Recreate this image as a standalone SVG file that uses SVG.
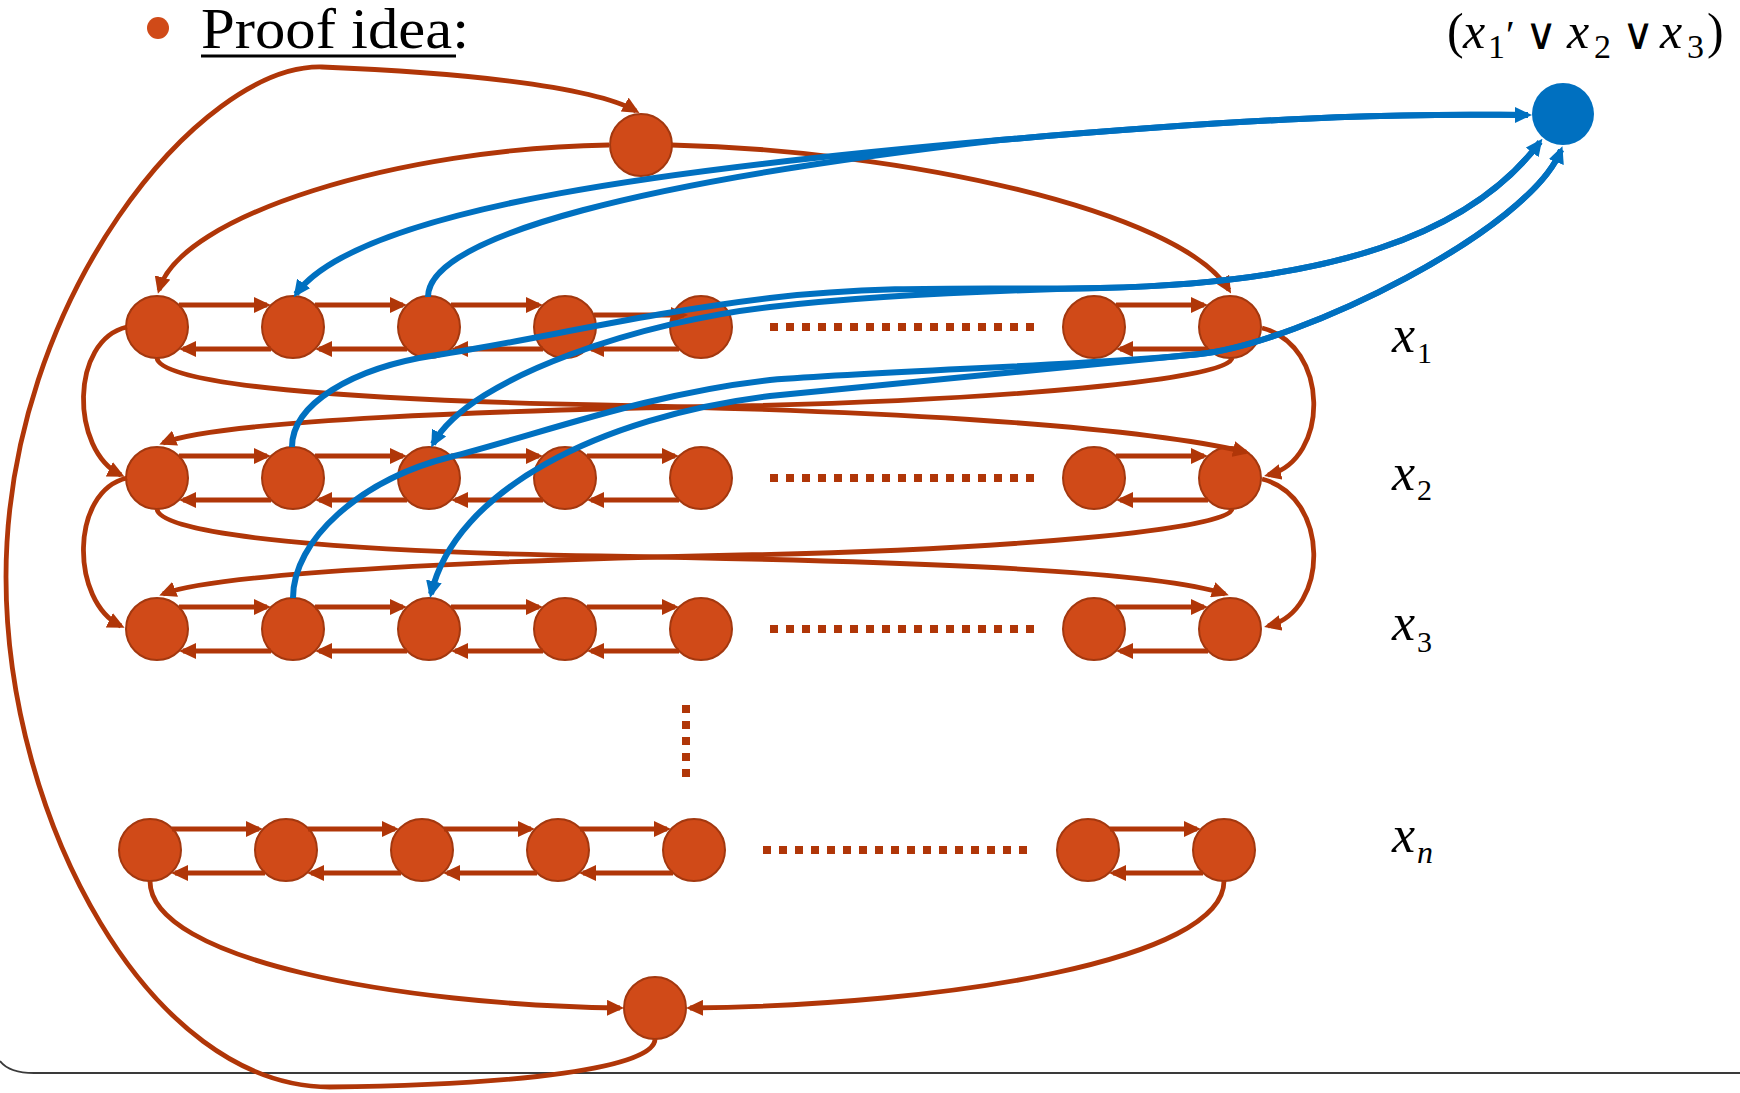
<svg xmlns="http://www.w3.org/2000/svg" width="1740" height="1093" viewBox="0 0 1740 1093">
<defs>
<style>
.node{fill:#D04A18;stroke:#A3380F;stroke-width:2}
.clause{fill:#0070C0}
.r{fill:none;stroke:#B03608;stroke-width:4.8;marker-end:url(#ar)}
.b{fill:none;stroke:#0070C0;stroke-width:6;marker-end:url(#ab)}
.dot{fill:none;stroke:#B03608;stroke-width:8;stroke-dasharray:8 8}
.lbl{font-family:"Liberation Serif","DejaVu Serif",serif;fill:#000}
.op{font-family:"DejaVu Sans","Liberation Sans",sans-serif;font-weight:200}
</style>
<marker id="ar" viewBox="0 0 17 16" refX="13" refY="8" markerWidth="17" markerHeight="16" markerUnits="userSpaceOnUse" orient="auto"><path d="M0,0 L17,8 L0,16 z" fill="#B03608"/></marker>
<marker id="ab" viewBox="0 0 17 16" refX="13" refY="8" markerWidth="17" markerHeight="16" markerUnits="userSpaceOnUse" orient="auto"><path d="M0,0 L17,8 L0,16 z" fill="#0070C0"/></marker>
</defs>
<rect width="1740" height="1093" fill="#fff"/>
<path d="M0,1061 C6,1069 16,1073 34,1073 H1740" fill="none" stroke="#3A3A3A" stroke-width="2"/>

<g id="title">
<circle cx="158" cy="28" r="11" fill="#D04A18"/>
<text class="lbl" x="201" y="48" font-size="57" textLength="268" lengthAdjust="spacingAndGlyphs">Proof idea:</text>
<rect x="201" y="54.5" width="255" height="3" fill="#000"/>
</g>

<g id="clause-label">
<text class="lbl" font-size="50">
<tspan x="1447" y="48">(</tspan><tspan x="1463" y="48" font-style="italic">x</tspan><tspan x="1488" y="58" font-size="34">1</tspan><tspan x="1506" y="48" font-size="40">′</tspan><tspan class="op" x="1525" y="49" font-size="44">∨</tspan><tspan x="1567" y="48" font-style="italic">x</tspan><tspan x="1594" y="58" font-size="34">2</tspan><tspan class="op" x="1622" y="49" font-size="44">∨</tspan><tspan x="1660" y="48" font-style="italic">x</tspan><tspan x="1687" y="58" font-size="34">3</tspan><tspan x="1707" y="48">)</tspan>
</text>
</g>

<g id="row-labels">
<text class="lbl" font-size="52"><tspan x="1392" y="352" font-style="italic">x</tspan><tspan x="1417" y="363" font-size="30">1</tspan></text>
<text class="lbl" font-size="52"><tspan x="1392" y="490" font-style="italic">x</tspan><tspan x="1417" y="500" font-size="30">2</tspan></text>
<text class="lbl" font-size="52"><tspan x="1392" y="640" font-style="italic">x</tspan><tspan x="1417" y="652" font-size="30">3</tspan></text>
<text class="lbl" font-size="52"><tspan x="1392" y="852" font-style="italic">x</tspan><tspan x="1417" y="863" font-size="32" font-style="italic">n</tspan></text>
</g>

<g id="dots">
<path class="dot" d="M770,327 H1034"/>
<path class="dot" d="M770,478 H1034"/>
<path class="dot" d="M770,629 H1034"/>
<path class="dot" d="M763,850 H1027"/>
<path class="dot" d="M686,705 V777"/>
</g>

<g id="nodes">
<circle id="n-top" class="node" cx="641" cy="145" r="31"/>
<circle id="n-bottom" class="node" cx="655" cy="1008" r="31"/>
<circle id="n-clause" class="clause" cx="1563" cy="114" r="31"/>
<g id="row-x1">
<circle id="n-1-1" class="node" cx="157" cy="327" r="31"/>
<circle id="n-1-2" class="node" cx="293" cy="327" r="31"/>
<circle id="n-1-3" class="node" cx="429" cy="327" r="31"/>
<circle id="n-1-4" class="node" cx="565" cy="327" r="31"/>
<circle id="n-1-5" class="node" cx="701" cy="327" r="31"/>
<circle id="n-1-6" class="node" cx="1094" cy="327" r="31"/>
<circle id="n-1-7" class="node" cx="1230" cy="327" r="31"/>
</g>
<g id="row-x2">
<circle id="n-2-1" class="node" cx="157" cy="478" r="31"/>
<circle id="n-2-2" class="node" cx="293" cy="478" r="31"/>
<circle id="n-2-3" class="node" cx="429" cy="478" r="31"/>
<circle id="n-2-4" class="node" cx="565" cy="478" r="31"/>
<circle id="n-2-5" class="node" cx="701" cy="478" r="31"/>
<circle id="n-2-6" class="node" cx="1094" cy="478" r="31"/>
<circle id="n-2-7" class="node" cx="1230" cy="478" r="31"/>
</g>
<g id="row-x3">
<circle id="n-3-1" class="node" cx="157" cy="629" r="31"/>
<circle id="n-3-2" class="node" cx="293" cy="629" r="31"/>
<circle id="n-3-3" class="node" cx="429" cy="629" r="31"/>
<circle id="n-3-4" class="node" cx="565" cy="629" r="31"/>
<circle id="n-3-5" class="node" cx="701" cy="629" r="31"/>
<circle id="n-3-6" class="node" cx="1094" cy="629" r="31"/>
<circle id="n-3-7" class="node" cx="1230" cy="629" r="31"/>
</g>
<g id="row-xn">
<circle id="n-n-1" class="node" cx="150" cy="850" r="31"/>
<circle id="n-n-2" class="node" cx="286" cy="850" r="31"/>
<circle id="n-n-3" class="node" cx="422" cy="850" r="31"/>
<circle id="n-n-4" class="node" cx="558" cy="850" r="31"/>
<circle id="n-n-5" class="node" cx="694" cy="850" r="31"/>
<circle id="n-n-6" class="node" cx="1088" cy="850" r="31"/>
<circle id="n-n-7" class="node" cx="1224" cy="850" r="31"/>
</g>
</g>

<g id="connectors">
<g id="red-connectors">
<path class="r" d="M179,305 H267"/><path class="r" d="M315,305 H403"/><path class="r" d="M451,305 H539"/><path class="r" d="M594,315 H684"/><path class="r" d="M1116,305 H1204"/>
<path class="r" d="M271,349 H183"/><path class="r" d="M407,349 H319"/><path class="r" d="M543,349 H455"/><path class="r" d="M679,349 H591"/><path class="r" d="M1208,349 H1120"/>
<path class="r" d="M179,456 H267"/><path class="r" d="M315,456 H403"/><path class="r" d="M451,456 H539"/><path class="r" d="M587,456 H675"/><path class="r" d="M1116,456 H1204"/>
<path class="r" d="M271,500 H183"/><path class="r" d="M407,500 H319"/><path class="r" d="M543,500 H455"/><path class="r" d="M679,500 H591"/><path class="r" d="M1208,500 H1120"/>
<path class="r" d="M179,607 H267"/><path class="r" d="M315,607 H403"/><path class="r" d="M451,607 H539"/><path class="r" d="M587,607 H675"/><path class="r" d="M1116,607 H1204"/>
<path class="r" d="M271,651 H183"/><path class="r" d="M407,651 H319"/><path class="r" d="M543,651 H455"/><path class="r" d="M679,651 H591"/><path class="r" d="M1208,651 H1120"/>
<path class="r" d="M172,829 H259"/><path class="r" d="M308,829 H395"/><path class="r" d="M444,829 H531"/><path class="r" d="M580,829 H667"/><path class="r" d="M1110,829 H1197"/>
<path class="r" d="M265,873 H175"/><path class="r" d="M401,873 H311"/><path class="r" d="M537,873 H447"/><path class="r" d="M673,873 H583"/><path class="r" d="M1203,873 H1113"/>

<path class="r" d="M609,145 C400,148 180,215 159,290"/>
<path class="r" d="M671,145 C900,150 1180,210 1229,290"/>
<path class="r" d="M655,1039 C655,1068 520,1085 330,1087 C150,1087 6,820 6,577 C6,300 200,64 322,67 C450,72 590,85 636,111"/>
<path class="r" d="M157,358 C160,385 350,400 600,405 C850,410 1120,423 1246,452"/>
<path class="r" d="M1232,358 C1230,380 1000,400 740,406 C500,410 220,420 163,443"/>
<path class="r" d="M157,509 C160,536 350,552 600,556 C850,560 1150,568 1225,594"/>
<path class="r" d="M1232,509 C1230,530 1000,550 740,555 C500,560 220,572 163,594"/>
<path class="r" d="M127,327 C70,340 70,450 121,475"/>
<path class="r" d="M127,478 C70,491 70,601 121,626"/>
<path class="r" d="M1262,328 C1330,345 1330,460 1268,475"/>
<path class="r" d="M1262,479 C1330,496 1330,611 1268,626"/>
<path class="r" d="M150,881 C150,960 400,1005 620,1008"/>
<path class="r" d="M1224,881 C1224,960 950,1005 690,1008"/>
</g>
<g id="blue-connectors">
<path class="b" d="M428,297 C428,235 650,180 1000,140 C1350,110 1450,115 1528,115"/>
<path class="b" d="M1528,115 C1450,115 1350,110 1000,140 C700,166 360,205 296,294"/>
<path class="b" d="M292,447 C292,405 350,368 437,355 C524,342 650,312 770,298 C890,284 1000,290 1100,288 C1330,283 1470,235 1540,142"/>
<path class="b" d="M1540,142 C1470,235 1330,283 1100,288 C960,291 850,298 770,307 C650,320 470,375 433,444"/>
<path class="b" d="M293,598 C293,540 360,480 450,457 C540,434 650,393 770,380 C900,370 1100,365 1200,354 C1300,343 1530,230 1561,150"/>
<path class="b" d="M1561,150 C1530,230 1300,343 1200,354 C1100,365 950,378 770,396 C600,417 455,490 431,594"/>
</g>
</g>
</svg>
